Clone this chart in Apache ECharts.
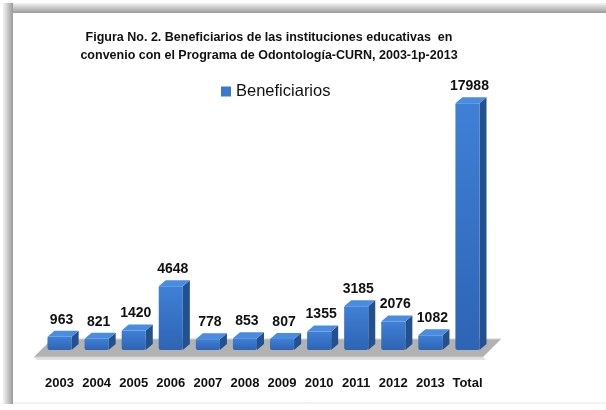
<!DOCTYPE html>
<html><head><meta charset="utf-8">
<script src="https://cdn.jsdelivr.net/npm/echarts@6/dist/echarts.min.js"></script>
<style>html,body{margin:0;padding:0;background:#fff}#c{width:606px;height:410px}</style>
</head><body><div id="c"></div>
<script>
const categories = ['2003','2004','2005','2006','2007','2008','2009','2010','2011','2012','2013','Total'];
const beneficiarios = [963, 821, 1420, 4648, 778, 853, 807, 1355, 3185, 2076, 1082, 17988];
const titleLines = ['Figura No. 2. Beneficiarios de las instituciones educativas  en', 'convenio con el Programa de Odontología-CURN, 2003-1p-2013'];
const seriesName = 'Beneficiarios';

const chart = echarts.init(document.getElementById('c'), null, {renderer: 'canvas'});
const DX = 7, DY = -6;
function renderBar(params, api) {
  const top = api.coord([api.value(0), api.value(1)]);
  const base = api.coord([api.value(0), 0]);
  const w = api.size([1, 0])[0] * 0.65;
  const l = top[0] - w / 2, r = top[0] + w / 2, t = top[1], b = base[1];
  return {
    type: 'group',
    children: [
      {type: 'polygon', shape: {points: [[r, t], [r + DX, t + DY], [r + DX, b + DY], [r, b]]},
        style: {fill: '#23508e'}},
      {type: 'rect', shape: {x: l, y: t, width: w, height: b - t, r: [1,1,2,2]},
        style: {fill: new echarts.graphic.LinearGradient(0, 0, 0, 1, [{offset: 0, color: '#3f80d6'}, {offset: 1, color: '#2e64b4'}])}},
      {type: 'polygon', shape: {points: [[l, t], [l + DX, t + DY], [r + DX, t + DY], [r, t]]},
        style: {fill: '#4a8cdf'}},
      {type: 'text', style: {text: String(api.value(1)), x: top[0] + 2, y: t + DY - 4, textAlign: 'center', textVerticalAlign: 'bottom',
        font: 'bold 14px "Liberation Sans", Arial, sans-serif', fill: '#111'}}
    ]
  };
}

chart.setOption({
  animation: false,
  backgroundColor: '#fff',
  graphic: [
    {type: 'rect', shape: {x: 3, y: 3, width: 603, height: 10}, style: {fill: new echarts.graphic.LinearGradient(0, 0, 0, 1, [{offset: 0, color: '#f4f4f4'}, {offset: 1, color: '#9a9a9a'}])}, z: -10},
    {type: 'rect', shape: {x: 3, y: 3, width: 10, height: 401}, style: {fill: new echarts.graphic.LinearGradient(0, 0, 1, 0, [{offset: 0, color: '#f4f4f4'}, {offset: 1, color: '#9a9a9a'}])}, z: -10},
    {type: 'rect', shape: {x: 13, y: 13, width: 593, height: 390}, style: {fill: '#fff'}, z: -9},
    {type: 'line', shape: {x1: 13, y1: 403, x2: 606, y2: 403}, style: {stroke: '#e4e4e4', lineWidth: 1}, z: -9},
    {type: 'polygon', shape: {points: [[34, 357], [483, 357], [486, 360], [37, 360]]}, style: {fill: '#e2e2e2'}, z: -2},
    {type: 'polygon', shape: {points: [[34, 357], [483, 357], [501, 339], [52, 339]]}, style: {fill: '#b2b2b2', stroke: '#d0d0d0', lineWidth: 1}, z: -1}
  ],
  title: {
    text: titleLines.join('\n'), left: 264, top: 24, textAlign: 'center',
    textStyle: {fontFamily: '"Liberation Sans", Arial, sans-serif', fontWeight: 'bold', fontSize: 12.5, lineHeight: 18, color: '#111'}
  },
  legend: {
    data: [seriesName], left: 216, top: 78, itemWidth: 10, itemHeight: 10, itemGap: 6,
    icon: 'rect',
    textStyle: {fontFamily: '"Liberation Sans", Arial, sans-serif', fontSize: 16.5, color: '#111'}
  },
  grid: {left: 41, right: 120, top: 103, bottom: 60},
  xAxis: {
    type: 'category', data: categories,
    axisLine: {show: false}, axisTick: {show: false},
    axisLabel: {interval: 0, margin: 27, color: '#111', fontWeight: 'bold', fontSize: 13, fontFamily: '"Liberation Sans", Arial, sans-serif'}
  },
  yAxis: {type: 'value', min: 0, max: 18000, show: false},
  series: [{
    name: seriesName, type: 'custom', renderItem: renderBar,
    itemStyle: {color: '#3a78cc'},
    data: beneficiarios.map((v, i) => [i, v])
  }]
});
</script></body></html>
